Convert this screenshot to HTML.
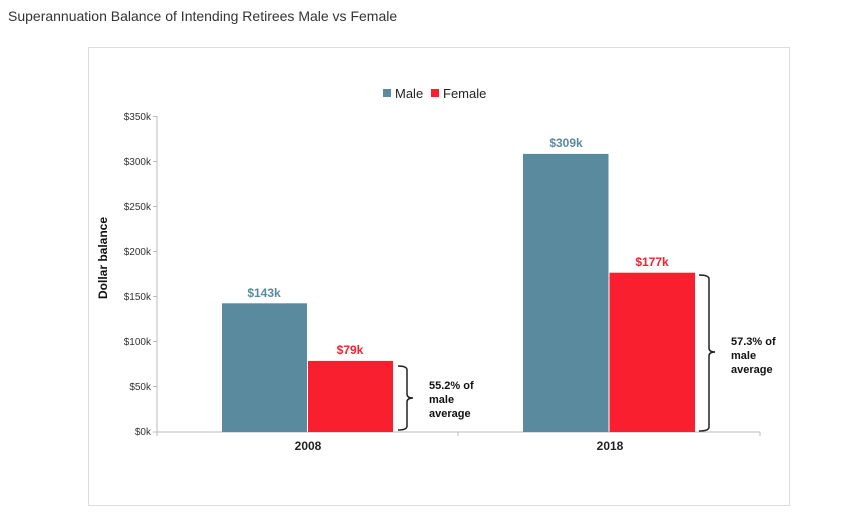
<!DOCTYPE html>
<html><head><style>
body{margin:0;background:#fff;width:841px;height:525px;overflow:hidden}
</style></head><body>
<svg width="841" height="525" xmlns="http://www.w3.org/2000/svg" font-family="Liberation Sans, sans-serif">
<text x="8" y="21" font-size="14" fill="#333">Superannuation Balance of Intending Retirees Male vs Female</text>
<rect x="88.5" y="47.5" width="701" height="458" fill="#fff" stroke="#ddd"/>
<rect x="383" y="89" width="8" height="8" fill="#5a8a9e"/>
<text x="395" y="98" font-size="13" fill="#222">Male</text>
<rect x="431" y="89" width="8" height="8" fill="#f91f2e"/>
<text x="443" y="98" font-size="13" fill="#222">Female</text>
<g font-size="10" fill="#333" text-anchor="end">
<text x="151" y="120">$350k</text><text x="151" y="165">$300k</text><text x="151" y="210">$250k</text>
<text x="151" y="255">$200k</text><text x="151" y="300">$150k</text><text x="151" y="345">$100k</text>
<text x="151" y="390">$50k</text><text x="151" y="435">$0k</text>
</g>
<g stroke="#bbb"><line x1="157" y1="116" x2="157" y2="436"/><line x1="153" y1="432" x2="760" y2="432"/>
<line x1="153" y1="116.5" x2="157" y2="116.5"/><line x1="153" y1="161.5" x2="157" y2="161.5"/><line x1="153" y1="206.5" x2="157" y2="206.5"/><line x1="153" y1="251.5" x2="157" y2="251.5"/><line x1="153" y1="296.5" x2="157" y2="296.5"/><line x1="153" y1="341.5" x2="157" y2="341.5"/><line x1="153" y1="386.5" x2="157" y2="386.5"/>
<line x1="458" y1="432" x2="458" y2="436"/><line x1="760" y1="432" x2="760" y2="436"/></g>
<text transform="translate(107,258) rotate(-90)" text-anchor="middle" font-size="12" font-weight="bold" fill="#111">Dollar balance</text>
<rect x="222" y="303.3" width="85" height="128.7" fill="#5a8a9e"/>
<rect x="308" y="360.9" width="85" height="71.1" fill="#f91f2e"/>
<rect x="523" y="153.9" width="85.5" height="278.1" fill="#5a8a9e"/>
<rect x="609.5" y="272.7" width="85.5" height="159.3" fill="#f91f2e"/>
<g font-size="12" font-weight="bold" text-anchor="middle">
<text x="264" y="297" fill="#5a8a9e">$143k</text><text x="350" y="354" fill="#f91f2e">$79k</text>
<text x="566" y="147" fill="#5a8a9e">$309k</text><text x="652" y="266" fill="#f91f2e">$177k</text>
<text x="308" y="450" fill="#222">2008</text><text x="610" y="450" fill="#222">2018</text>
</g>
<g fill="none" stroke="#222" stroke-width="1.5">
<path d="M398,366 Q407,366 407,370 L407,394 Q407,398 413,398 Q407,398 407,402 L407,426 Q407,430 398,430"/>
<path d="M699,275 Q709,275 709,279 L709,348 Q709,352 715,352 Q709,352 709,356 L709,427 Q709,431 699,431"/>
</g>
<g font-size="11" font-weight="bold" fill="#111">
<text x="429" y="389">55.2% of</text><text x="429" y="403">male</text><text x="429" y="417">average</text>
<text x="731" y="345">57.3% of</text><text x="731" y="359">male</text><text x="731" y="373">average</text>
</g>
</svg>
</body></html>
